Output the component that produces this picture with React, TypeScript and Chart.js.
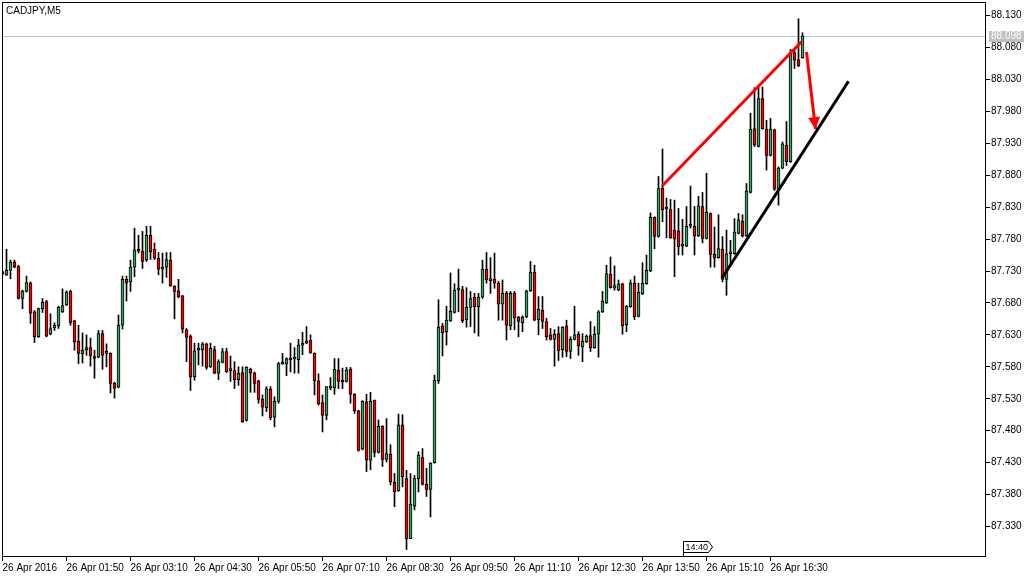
import React, { useEffect, useRef } from 'react';
import { Chart, registerables } from 'chart.js';

Chart.register(...registerables);
Chart.defaults.font.family = "'Liberation Sans', Arial, sans-serif";

const symbolTitle = 'CADJPY,M5';

const timeLabels = [
  '26 Apr 2016', '26 Apr 01:50', '26 Apr 03:10', '26 Apr 04:30', '26 Apr 05:50',
  '26 Apr 07:10', '26 Apr 08:30', '26 Apr 09:50', '26 Apr 11:10', '26 Apr 12:30',
  '26 Apr 13:50', '26 Apr 15:10', '26 Apr 16:30',
];
const timeLabelIndex = [0, 16, 32, 48, 64, 80, 96, 112, 128, 144, 160, 176, 192];

const priceTicks = [
  88.13, 88.08, 88.03, 87.98, 87.93, 87.88, 87.83, 87.78, 87.73, 87.68,
  87.63, 87.58, 87.53, 87.48, 87.43, 87.38, 87.33,
];

const openPrices = [
  87.726, 87.724, 87.731, 87.744, 87.737, 87.687, 87.698, 87.711, 87.666, 87.627,
  87.671, 87.682, 87.631, 87.641, 87.644, 87.666, 87.677, 87.698, 87.652, 87.620,
  87.600, 87.607, 87.610, 87.596, 87.595, 87.632, 87.601, 87.601, 87.554, 87.548,
  87.645, 87.717, 87.713, 87.736, 87.762, 87.761, 87.747, 87.786, 87.764, 87.750,
  87.733, 87.736, 87.747, 87.706, 87.699, 87.691, 87.638, 87.628, 87.564, 87.606,
  87.607, 87.616, 87.580, 87.607, 87.570, 87.587, 87.604, 87.574, 87.574, 87.560,
  87.571, 87.496, 87.576, 87.570, 87.558, 87.529, 87.516, 87.545, 87.501, 87.526,
  87.584, 87.584, 87.591, 87.592, 87.591, 87.614, 87.617, 87.622, 87.601, 87.558,
  87.524, 87.504, 87.547, 87.547, 87.575, 87.559, 87.557, 87.576, 87.537, 87.511,
  87.451, 87.525, 87.434, 87.528, 87.446, 87.487, 87.435, 87.443, 87.399, 87.386,
  87.489, 87.405, 87.311, 87.362, 87.405, 87.438, 87.396, 87.388, 87.430, 87.558,
  87.644, 87.635, 87.652, 87.665, 87.700, 87.701, 87.654, 87.673, 87.689, 87.674,
  87.689, 87.733, 87.715, 87.717, 87.711, 87.678, 87.696, 87.644, 87.695, 87.658,
  87.649, 87.658, 87.699, 87.728, 87.654, 87.669, 87.651, 87.630, 87.623, 87.632,
  87.607, 87.644, 87.604, 87.623, 87.631, 87.611, 87.619, 87.629, 87.610, 87.631,
  87.666, 87.680, 87.725, 87.703, 87.700, 87.710, 87.646, 87.674, 87.711, 87.659,
  87.694, 87.710, 87.730, 87.814, 87.784, 87.860, 87.827, 87.826, 87.794, 87.793,
  87.769, 87.769, 87.800, 87.800, 87.785, 87.831, 87.781, 87.820, 87.756, 87.751,
  87.764, 87.717, 87.757, 87.757, 87.789, 87.808, 87.785, 87.853, 87.953, 87.925,
  88.000, 87.952, 87.911, 87.951, 87.858, 87.891, 87.927, 87.901, 88.072, 88.061,
  88.064,
];

const highPrices = [
  87.729, 87.764, 87.747, 87.747, 87.739, 87.700, 87.722, 87.713, 87.668, 87.672,
  87.687, 87.684, 87.663, 87.649, 87.675, 87.702, 87.699, 87.700, 87.653, 87.645,
  87.633, 87.630, 87.625, 87.606, 87.637, 87.637, 87.616, 87.602, 87.556, 87.661,
  87.722, 87.722, 87.747, 87.797, 87.786, 87.792, 87.800, 87.800, 87.774, 87.759,
  87.758, 87.759, 87.759, 87.707, 87.717, 87.692, 87.640, 87.630, 87.617, 87.617,
  87.618, 87.617, 87.617, 87.612, 87.591, 87.609, 87.609, 87.597, 87.588, 87.580,
  87.580, 87.580, 87.578, 87.572, 87.559, 87.536, 87.549, 87.549, 87.533, 87.587,
  87.601, 87.594, 87.617, 87.610, 87.623, 87.634, 87.643, 87.630, 87.602, 87.569,
  87.536, 87.549, 87.563, 87.593, 87.593, 87.578, 87.579, 87.579, 87.538, 87.512,
  87.527, 87.537, 87.540, 87.528, 87.497, 87.488, 87.499, 87.458, 87.413, 87.506,
  87.505, 87.418, 87.413, 87.410, 87.447, 87.452, 87.421, 87.430, 87.567, 87.685,
  87.648, 87.675, 87.727, 87.710, 87.733, 87.706, 87.704, 87.698, 87.695, 87.695,
  87.747, 87.759, 87.751, 87.758, 87.714, 87.716, 87.698, 87.698, 87.698, 87.659,
  87.660, 87.700, 87.745, 87.739, 87.690, 87.690, 87.656, 87.640, 87.638, 87.643,
  87.643, 87.653, 87.627, 87.675, 87.635, 87.632, 87.630, 87.651, 87.643, 87.668,
  87.698, 87.739, 87.752, 87.738, 87.716, 87.711, 87.676, 87.716, 87.722, 87.711,
  87.743, 87.755, 87.821, 87.815, 87.878, 87.921, 87.844, 87.842, 87.841, 87.828,
  87.811, 87.831, 87.863, 87.831, 87.847, 87.853, 87.883, 87.821, 87.799, 87.818,
  87.784, 87.794, 87.778, 87.812, 87.820, 87.818, 87.867, 87.977, 88.017, 88.021,
  88.018, 87.966, 87.969, 87.952, 87.893, 87.932, 87.964, 88.077, 88.077, 88.125,
  88.103,
];

const lowPrices = [
  87.723, 87.723, 87.718, 87.735, 87.686, 87.671, 87.697, 87.648, 87.618, 87.626,
  87.665, 87.627, 87.630, 87.637, 87.640, 87.665, 87.676, 87.645, 87.606, 87.585,
  87.586, 87.598, 87.581, 87.562, 87.594, 87.576, 87.580, 87.539, 87.531, 87.547,
  87.639, 87.683, 87.698, 87.721, 87.758, 87.734, 87.745, 87.748, 87.748, 87.724,
  87.711, 87.720, 87.706, 87.655, 87.688, 87.633, 87.588, 87.543, 87.559, 87.583,
  87.581, 87.576, 87.579, 87.569, 87.560, 87.586, 87.571, 87.557, 87.546, 87.551,
  87.493, 87.495, 87.540, 87.540, 87.523, 87.503, 87.510, 87.497, 87.486, 87.523,
  87.584, 87.566, 87.572, 87.570, 87.570, 87.599, 87.616, 87.601, 87.536, 87.520,
  87.478, 87.497, 87.544, 87.537, 87.546, 87.546, 87.556, 87.523, 87.507, 87.448,
  87.450, 87.416, 87.419, 87.439, 87.445, 87.424, 87.431, 87.395, 87.361, 87.385,
  87.392, 87.294, 87.311, 87.356, 87.384, 87.395, 87.377, 87.345, 87.429, 87.554,
  87.597, 87.614, 87.651, 87.664, 87.666, 87.649, 87.642, 87.643, 87.633, 87.628,
  87.687, 87.711, 87.695, 87.703, 87.653, 87.653, 87.622, 87.638, 87.638, 87.627,
  87.635, 87.657, 87.698, 87.652, 87.630, 87.640, 87.622, 87.622, 87.581, 87.590,
  87.595, 87.596, 87.593, 87.622, 87.598, 87.588, 87.618, 87.604, 87.609, 87.595,
  87.665, 87.679, 87.703, 87.700, 87.699, 87.631, 87.635, 87.673, 87.654, 87.658,
  87.693, 87.709, 87.729, 87.765, 87.783, 87.807, 87.782, 87.781, 87.721, 87.755,
  87.755, 87.768, 87.797, 87.755, 87.784, 87.774, 87.780, 87.736, 87.736, 87.750,
  87.713, 87.692, 87.740, 87.756, 87.788, 87.783, 87.784, 87.852, 87.925, 87.924,
  87.952, 87.888, 87.910, 87.856, 87.833, 87.890, 87.895, 87.900, 88.047, 88.050,
  88.063,
];

const closePrices = [
  87.727, 87.731, 87.744, 87.736, 87.687, 87.699, 87.712, 87.664, 87.627, 87.671,
  87.681, 87.628, 87.640, 87.645, 87.673, 87.676, 87.697, 87.649, 87.619, 87.601,
  87.606, 87.610, 87.597, 87.593, 87.632, 87.598, 87.601, 87.554, 87.546, 87.645,
  87.717, 87.711, 87.736, 87.763, 87.761, 87.745, 87.786, 87.760, 87.750, 87.733,
  87.733, 87.748, 87.707, 87.698, 87.690, 87.639, 87.626, 87.564, 87.605, 87.606,
  87.616, 87.579, 87.609, 87.570, 87.588, 87.604, 87.572, 87.574, 87.560, 87.570,
  87.494, 87.579, 87.570, 87.554, 87.529, 87.517, 87.546, 87.500, 87.526, 87.585,
  87.587, 87.593, 87.593, 87.592, 87.614, 87.617, 87.620, 87.602, 87.558, 87.522,
  87.504, 87.549, 87.547, 87.576, 87.557, 87.556, 87.575, 87.537, 87.511, 87.449,
  87.526, 87.434, 87.526, 87.446, 87.487, 87.435, 87.444, 87.400, 87.384, 87.489,
  87.408, 87.311, 87.365, 87.405, 87.442, 87.396, 87.388, 87.429, 87.559, 87.642,
  87.633, 87.653, 87.667, 87.700, 87.700, 87.652, 87.673, 87.687, 87.674, 87.689,
  87.733, 87.716, 87.715, 87.711, 87.678, 87.695, 87.645, 87.695, 87.657, 87.651,
  87.658, 87.699, 87.728, 87.653, 87.670, 87.651, 87.627, 87.623, 87.631, 87.605,
  87.642, 87.604, 87.623, 87.630, 87.613, 87.620, 87.628, 87.610, 87.631, 87.666,
  87.683, 87.726, 87.704, 87.707, 87.710, 87.644, 87.675, 87.711, 87.658, 87.697,
  87.711, 87.731, 87.814, 87.784, 87.859, 87.826, 87.827, 87.782, 87.780, 87.768,
  87.769, 87.800, 87.800, 87.785, 87.832, 87.781, 87.822, 87.756, 87.750, 87.765,
  87.717, 87.757, 87.757, 87.791, 87.810, 87.785, 87.855, 87.952, 87.927, 88.000,
  87.953, 87.911, 87.952, 87.858, 87.891, 87.929, 87.901, 88.072, 88.060, 88.051,
  88.098,
];

const currentPrice = 88.098;
const markerIndex = 170;
const markerLabel = '14:40';

// trend lines (bar index, price)
const redTrendLine = [
  { x: 164.9, y: 87.863 },
  { x: 199.75, y: 88.089 },
];
const redArrowLine = [
  { x: 201.0, y: 88.073 },
  { x: 203.25, y: 87.952 },
];
const blackTrendLine = [
  { x: 179.9, y: 87.719 },
  { x: 211.5, y: 88.027 },
];

const X_MIN = -0.125;
const X_MAX = 245.875;
const Y_MIN = 87.28225;
const Y_MAX = 88.15114;

const BULL = '#34a465';
const BEAR = '#ff0000';
const FONT = { family: "'Liberation Sans', Arial, sans-serif", size: 10 };

const zeroPadding = (s: any) => {
  s.paddingLeft = 0;
  s.paddingRight = 0;
  s.paddingTop = 0;
  s.paddingBottom = 0;
};

const mt4Plugin = {
  id: 'mt4Decor',
  beforeDatasetsDraw(chart: any) {
    const { ctx, chartArea: a, scales } = chart;
    const py = Math.round(scales.y.getPixelForValue(currentPrice)) + 0.5;
    ctx.save();
    ctx.strokeStyle = '#c0c0c0';
    ctx.lineWidth = 1;
    ctx.beginPath();
    ctx.moveTo(a.left, py);
    ctx.lineTo(a.right, py);
    ctx.stroke();
    ctx.restore();
  },
  afterDatasetsDraw(chart: any) {
    // arrowhead at the end of the red arrow line
    const { ctx, scales } = chart;
    const p0 = redArrowLine[0];
    const p1 = redArrowLine[1];
    const x0 = scales.x.getPixelForValue(p0.x);
    const y0 = scales.y.getPixelForValue(p0.y);
    const x1 = scales.x.getPixelForValue(p1.x);
    const y1 = scales.y.getPixelForValue(p1.y);
    const len = Math.hypot(x1 - x0, y1 - y0) || 1;
    const ux = (x1 - x0) / len;
    const uy = (y1 - y0) / len;
    const headLen = 12;
    const half = 6;
    const bx = x1 - ux * headLen;
    const by = y1 - uy * headLen;
    ctx.save();
    ctx.fillStyle = '#ff0000';
    ctx.beginPath();
    ctx.moveTo(x1, y1);
    ctx.lineTo(bx - uy * half, by + ux * half);
    ctx.lineTo(bx + uy * half, by - ux * half);
    ctx.closePath();
    ctx.fill();
    ctx.restore();
  },
  afterDraw(chart: any) {
    const { ctx, chartArea: a, scales } = chart;
    ctx.save();
    // frame
    ctx.strokeStyle = '#000';
    ctx.lineWidth = 1;
    ctx.strokeRect(a.left + 0.5, a.top + 0.5, a.right - a.left - 1, a.bottom - a.top - 1);
    // title
    ctx.font = `${FONT.size}px ${FONT.family}`;
    ctx.fillStyle = '#000';
    ctx.textAlign = 'left';
    ctx.textBaseline = 'middle';
    ctx.fillText(symbolTitle, a.left + 4, a.top + 9);
    // current price label
    const py = Math.round(scales.y.getPixelForValue(currentPrice));
    ctx.fillStyle = '#c0c0c0';
    ctx.fillRect(a.right + 3, py - 5, 35, 11);
    ctx.fillStyle = '#fff';
    ctx.fillText(currentPrice.toFixed(3), a.right + 5, py + 0.5);
    // time marker
    const mx = Math.round(scales.x.getPixelForValue(markerIndex)) + 0.5;
    const top = a.bottom - 15.5;
    const bot = a.bottom - 4.5;
    ctx.beginPath();
    ctx.moveTo(mx, a.bottom);
    ctx.lineTo(mx, top);
    ctx.lineTo(mx + 25, top);
    ctx.lineTo(mx + 29, (top + bot) / 2);
    ctx.lineTo(mx + 25, bot);
    ctx.lineTo(mx, bot);
    ctx.closePath();
    ctx.fillStyle = '#fff';
    ctx.fill();
    ctx.strokeStyle = '#000';
    ctx.stroke();
    ctx.fillStyle = '#000';
    ctx.font = `9px ${FONT.family}`;
    ctx.fillText(markerLabel, mx + 2, (top + bot) / 2 + 0.5);
    ctx.restore();
  },
};

export default function App() {
  const canvasRef = useRef<HTMLCanvasElement>(null);

  useEffect(() => {
    document.body.style.margin = '0';
    const canvas = canvasRef.current;
    if (!canvas) return;

    const idx = openPrices.map((_, i) => i);
    const wicks = idx.map((i) => ({
      x: i,
      y: [
        Math.min(lowPrices[i], openPrices[i], closePrices[i]),
        Math.max(highPrices[i], openPrices[i], closePrices[i]),
      ],
    }));
    const bodies = idx.map((i) => ({
      x: i,
      y: [Math.min(openPrices[i], closePrices[i]), Math.max(openPrices[i], closePrices[i])],
    }));
    const bodyColors = idx.map((i) => (closePrices[i] >= openPrices[i] ? BULL : BEAR));

    const chart = new Chart(canvas, {
      type: 'bar',
      data: {
        datasets: [
          {
            type: 'line',
            data: blackTrendLine,
            borderColor: '#000',
            borderWidth: 3,
            pointRadius: 0,
            tension: 0,
            order: 1,
          } as any,
          {
            type: 'line',
            data: redTrendLine,
            borderColor: '#ff0000',
            borderWidth: 3,
            pointRadius: 0,
            tension: 0,
            order: 1,
          } as any,
          {
            type: 'line',
            data: redArrowLine,
            borderColor: '#ff0000',
            borderWidth: 3,
            pointRadius: 0,
            tension: 0,
            order: 1,
          } as any,
          {
            type: 'bar',
            data: bodies,
            backgroundColor: bodyColors,
            borderColor: '#000',
            borderWidth: 1,
            borderSkipped: false,
            barThickness: 3,
            minBarLength: 2,
            grouped: false,
            order: 4,
          } as any,
          {
            type: 'bar',
            data: wicks,
            backgroundColor: '#000',
            borderWidth: 0,
            barThickness: 1,
            minBarLength: 1,
            grouped: false,
            order: 5,
          } as any,
        ],
      },
      options: {
        responsive: false,
        animation: false,
        events: [],
        layout: { padding: { left: 2, top: 2, right: 0, bottom: 0 } },
        plugins: {
          legend: { display: false },
          tooltip: { enabled: false },
          title: { display: false },
        },
        scales: {
          x: {
            type: 'linear',
            position: 'bottom',
            min: X_MIN,
            max: X_MAX,
            offset: false,
            grid: {
              display: true,
              drawOnChartArea: false,
              drawTicks: true,
              tickLength: 4,
              color: '#000',
              lineWidth: 1,
              offset: false,
            },
            border: { display: false },
            ticks: {
              autoSkip: false,
              maxRotation: 0,
              minRotation: 0,
              align: 'start',
              padding: 1,
              color: '#000',
              font: FONT,
              callback: (v: any) => {
                const k = timeLabelIndex.indexOf(Math.round(Number(v)));
                return k >= 0 ? timeLabels[k] : '';
              },
            },
            afterBuildTicks: (s: any) => {
              s.ticks = timeLabelIndex.map((v) => ({ value: v }));
            },
            afterFit: (s: any) => {
              s.height = 21;
              zeroPadding(s);
            },
          },
          y: {
            type: 'linear',
            position: 'right',
            min: Y_MIN,
            max: Y_MAX,
            grid: {
              display: true,
              drawOnChartArea: false,
              drawTicks: true,
              tickLength: 4,
              color: '#000',
              lineWidth: 1,
            },
            border: { display: false },
            ticks: {
              padding: 1,
              color: '#000',
              font: FONT,
              autoSkip: false,
              callback: (v: any) => Number(v).toFixed(3),
            },
            afterBuildTicks: (s: any) => {
              s.ticks = priceTicks.map((v) => ({ value: v }));
            },
            afterFit: (s: any) => {
              s.width = 48;
              zeroPadding(s);
            },
          },
        },
      } as any,
      plugins: [mt4Plugin],
    });

    return () => chart.destroy();
  }, []);

  return (
    <div style={{ width: 1034, height: 578, position: 'relative', background: '#fff' }}>
      <canvas
        ref={canvasRef}
        width={1034}
        height={578}
        style={{ display: 'block', width: 1034, height: 578 }}
      />
    </div>
  );
}
